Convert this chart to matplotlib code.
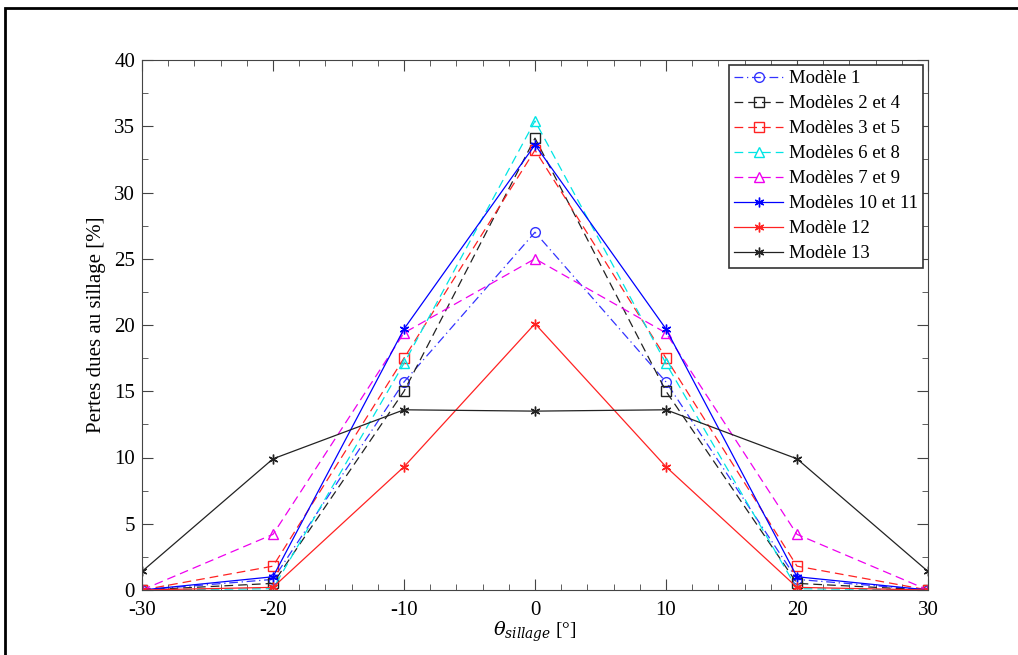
import matplotlib
matplotlib.use("Agg")
import matplotlib.pyplot as plt
from matplotlib.patches import Rectangle
from matplotlib.ticker import MultipleLocator

plt.rcParams['font.family'] = ['Liberation Serif', 'DejaVu Serif']
plt.rcParams['mathtext.fontset'] = 'dejavuserif'
plt.rcParams['axes.unicode_minus'] = False

# angle du sillage (deg)
theta = [-30, -20, -10, 0, 10, 20, 30]

# pertes dues au sillage (%)
m1 = [0.0, 0.8, 15.7, 27.0, 15.7, 0.8, 0.0]
m2_4 = [0.0, 0.5, 15.0, 34.1, 15.0, 0.5, 0.0]
m3_5 = [0.0, 1.8, 17.5, 33.2, 17.5, 1.8, 0.0]
m6_8 = [0.0, 0.1, 17.1, 35.4, 17.1, 0.1, 0.0]
m7_9 = [0.0, 4.2, 19.4, 25.0, 19.4, 4.2, 0.0]
m10_11 = [0.0, 1.0, 19.7, 33.6, 19.7, 1.0, 0.0]
m12 = [0.0, 0.2, 9.3, 20.1, 9.3, 0.2, 0.0]
m13 = [1.4, 9.9, 13.6, 13.5, 13.6, 9.9, 1.4]

labels = ["Modèle 1", "Modèles 2 et 4", "Modèles 3 et 5", "Modèles 6 et 8",
          "Modèles 7 et 9", "Modèles 10 et 11", "Modèle 12", "Modèle 13"]

fig = plt.figure(figsize=(10.18, 6.55), dpi=100)
ax = fig.add_axes([142 / 1018, 65 / 655, 786 / 1018, 530 / 655])

lw = 0.9
star = (6, 2, 0)  # asterisque
dash = (0, (7, 4))
ax.plot(theta, m1, color="#3333ff", ls=(0, (7, 3, 1, 3)), lw=lw, marker="o",
        mfc="none", ms=7, label=labels[0])
ax.plot(theta, m2_4, color="#222222", ls=dash, lw=lw, marker="s",
        mfc="none", ms=7, label=labels[1])
ax.plot(theta, m3_5, color="#ff2222", ls=dash, lw=lw, marker="s",
        mfc="none", ms=7, label=labels[2])
ax.plot(theta, m6_8, color="#00e5e5", ls=dash, lw=lw, marker="^",
        mfc="none", ms=7, label=labels[3])
ax.plot(theta, m7_9, color="#ee00ee", ls=dash, lw=lw, marker="^",
        mfc="none", ms=7, label=labels[4])
ax.plot(theta, m10_11, color="#0000ff", ls="-", lw=lw, marker=star,
        ms=7, mew=1.0, label=labels[5])
ax.plot(theta, m12, color="#ff2222", ls="-", lw=lw, marker=star,
        ms=7, mew=1.0, label=labels[6])
ax.plot(theta, m13, color="#222222", ls="-", lw=lw, marker=star,
        ms=7, mew=1.0, label=labels[7])

ax.set_xlim(-30, 30)
ax.set_ylim(0, 40)
ax.xaxis.set_major_locator(MultipleLocator(10))
ax.xaxis.set_minor_locator(MultipleLocator(2))
ax.yaxis.set_major_locator(MultipleLocator(5))
ax.yaxis.set_minor_locator(MultipleLocator(2.5))
ax.tick_params(which="both", direction="in", top=True, right=True,
               labelsize=15, colors="#444444", labelcolor="black")
ax.tick_params(which="major", length=8, pad=5)
ax.tick_params(which="minor", length=4)
ax.tick_params(axis="x", which="major", pad=8)
for s in ax.spines.values():
    s.set_color("#444444")

ax.set_xlabel(r"$\theta_{sillage}$ [°]", fontsize=14, labelpad=0)
ax.set_ylabel("Pertes dues au sillage [%]", fontsize=15, labelpad=6)

leg = ax.legend(loc="upper right", fontsize=13.5, fancybox=False,
                framealpha=1, edgecolor="#333333", handlelength=2.6,
                borderaxespad=0.25, labelspacing=0.42, borderpad=0.3,
                handletextpad=0.3)
leg.get_frame().set_linewidth(1.2)

# cadre de la figure
fig.patches.append(Rectangle((5 / 1018, -0.05), 1.1, 1 - 8 / 655 + 0.05,
                             transform=fig.transFigure, fill=False,
                             edgecolor="black", lw=2))

fig.savefig("out.png", dpi=100)
